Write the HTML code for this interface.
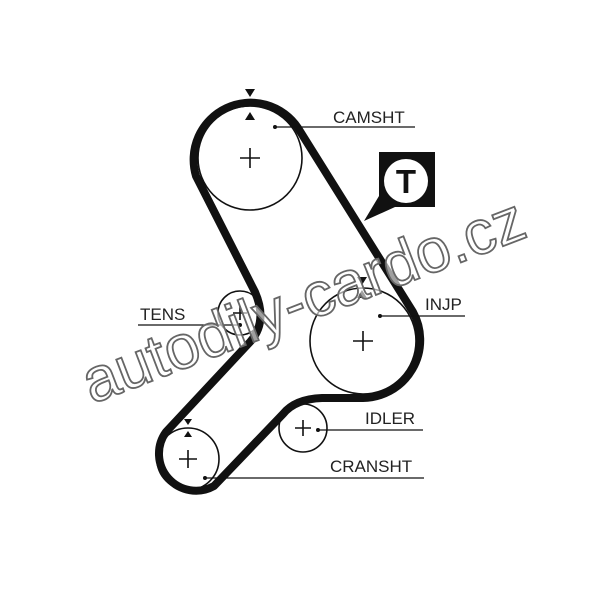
<!DOCTYPE html>
<html><head><meta charset="utf-8"><style>
html,body{margin:0;padding:0;background:#fff;}
svg{display:block;}
text{font-family:"Liberation Sans",Arial,sans-serif;}
</style></head><body>
<svg width="600" height="589" viewBox="0 0 600 589" xmlns="http://www.w3.org/2000/svg">
<g fill="none" stroke="#111" stroke-width="1.6">
<circle cx="250" cy="158" r="52"/>
<circle cx="363" cy="341" r="53"/>
<circle cx="303" cy="428" r="24"/>
<circle cx="188" cy="459" r="31"/>
<circle cx="240" cy="313" r="22"/>
</g>
<path d="M298,128 A57,57 0 0 0 196,176 L255,292 Q268,322 250,342 L166,432 A37,37 0 0 0 214,486 L283,414 Q295,399 322,398 L363,398 A58,58 0 0 0 413,312 Z" fill="none" stroke="#111" stroke-width="8" stroke-linejoin="round"/>
<g stroke="#111" stroke-width="1.6">
<path d="M240,158h20M250,148v20"/>
<path d="M353,341h20M363,331v20"/>
<path d="M295,428h16M303,420v16"/>
<path d="M179,459h18M188,450v18"/>
<path d="M233,313h14M240,306v14"/>
</g>
<g fill="#111">
<path d="M245,89h10l-5,8z"/><path d="M245,120h10l-5,-8z"/>
<path d="M357,277h10l-5,8z"/><path d="M357,298h10l-5,-8z"/>
<path d="M184,419h8l-4,6z"/><path d="M184,437h8l-4,-6z"/>
</g>
<g stroke="#111" stroke-width="1.3">
<path d="M275,127H415"/>
<path d="M138,325H240"/>
<path d="M380,316H465"/>
<path d="M318,430H423"/>
<path d="M205,478H424"/>
</g>
<g fill="#111">
<circle cx="275" cy="127" r="2"/><circle cx="380" cy="316" r="2"/>
<circle cx="318" cy="430" r="2"/><circle cx="205" cy="478" r="2"/><circle cx="240" cy="325" r="2"/>
</g>
<g font-size="17" fill="#222">
<text x="333" y="123">CAMSHT</text>
<text x="140" y="320">TENS</text>
<text x="425" y="310">INJP</text>
<text x="365" y="424">IDLER</text>
<text x="330" y="472">CRANSHT</text>
</g>
<path d="M379,152H435V207H395L364,221L379,196Z" fill="#111"/>
<circle cx="406" cy="181" r="22" fill="#fff"/>
<text x="406" y="193" font-size="33" font-weight="bold" text-anchor="middle" fill="#111">T</text>
<text x="92" y="404" font-size="62" fill="#fff" fill-opacity="0.6" stroke="#666" stroke-width="1.8" transform="rotate(-21 92 404)">autodily-cardo.cz</text>
</svg>
</body></html>
